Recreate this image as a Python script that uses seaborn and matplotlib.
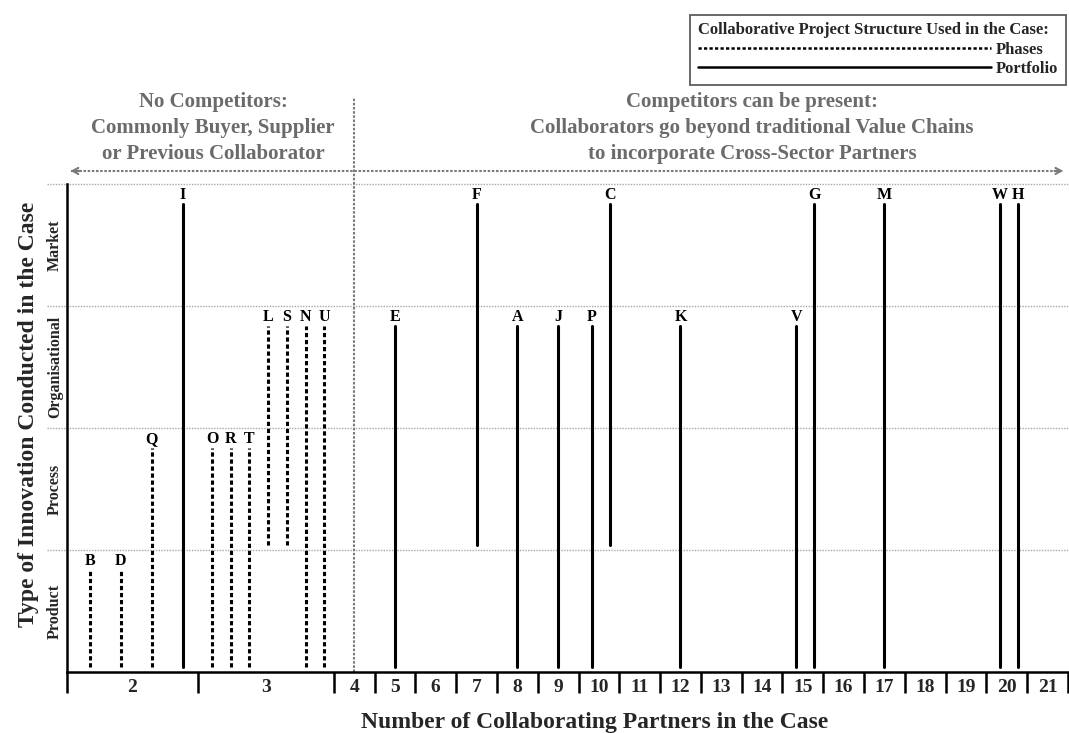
import numpy as np
import pandas as pd
import matplotlib
matplotlib.use('Agg')
import matplotlib.pyplot as plt
import seaborn as sns
from matplotlib.lines import Line2D

# Case data
cases = ['B', 'D', 'Q', 'I', 'O', 'R', 'T', 'L', 'S', 'N', 'U',
         'E', 'F', 'A', 'J', 'P', 'C', 'K', 'V', 'G', 'M', 'W', 'H']
partners = [2, 2, 2, 2, 3, 3, 3, 3, 3, 3, 3,
            5, 7, 8, 9, 10, 10, 12, 15, 15, 17, 20, 20]
structure = ['Phases'] * 3 + ['Portfolio'] + ['Phases'] * 7 + ['Portfolio'] * 12
# lowest / highest innovation type covered (1 Product, 2 Process, 3 Organisational, 4 Market)
type_from = [1, 1, 1, 1, 1, 1, 1, 2, 2, 1, 1,
             1, 2, 1, 1, 1, 2, 1, 1, 1, 1, 1, 1]
type_to = [1, 1, 2, 4, 2, 2, 2, 3, 3, 3, 3,
           3, 4, 3, 3, 3, 4, 3, 3, 4, 4, 4, 4]

partner_cats = list(range(2, 22))
innovation_types = ['Product', 'Process', 'Organisational', 'Market']

# Layout of the x axis: categories 2 and 3 are drawn wider
cat_width = {c: 1.0 for c in partner_cats}
cat_width[2] = 3.21
cat_width[3] = 3.33
widths = np.array([cat_width[c] for c in partner_cats])
edges = np.concatenate([[0], np.cumsum(widths)])
centers = (edges[:-1] + edges[1:]) / 2

# position every case inside its category
xs = []
for i, p in enumerate(partners):
    group = [j for j, q in enumerate(partners) if q == p]
    k = group.index(i)
    n = len(group)
    ci = partner_cats.index(p)
    frac = 0.5 if n == 1 else (k + 0.75) / (n + 0.25)
    xs.append(edges[ci] + widths[ci] * frac)

rows = []
for c, x, s, lo, hi in zip(cases, xs, structure, type_from, type_to):
    rows.append({'case': c, 'x': x, 'y': lo - 1 + 0.04, 'structure': s})
    rows.append({'case': c, 'x': x, 'y': hi - 0.16, 'structure': s})
df = pd.DataFrame(rows)

sns.set_style('white')
plt.rcParams['font.family'] = ['Liberation Serif', 'DejaVu Serif']
plt.rcParams['font.weight'] = 'bold'

W, H = 1069, 733
fig = plt.figure(figsize=(W / 100, H / 100), dpi=100)
ax = fig.add_axes([67 / W, 61 / H, 1001 / W, 488 / H])

sns.lineplot(data=df, x='x', y='y', units='case', estimator=None, sort=False,
             style='structure', dashes={'Phases': (1.4, 0.9), 'Portfolio': ''},
             color='black', lw=2.2, legend=False, ax=ax)

# case letters
for c, x, hi in zip(cases, xs, type_to):
    ax.text(x, hi - 0.125, c, ha='center', va='baseline', fontsize=11.5,
            fontweight='bold', color='black')

ax.set_xlim(0, edges[-1])
ax.set_ylim(0, 4)

# dotted level separators
for lvl in range(1, 5):
    ax.plot([-0.5, edges[-1]], [lvl, lvl], color='#a8a8a8', lw=1,
            ls=(0, (1, 1)), clip_on=False, zorder=0)

# level names
for i, name in enumerate(innovation_types):
    ax.text(-0.3, i + 0.5, name, rotation=90, ha='center', va='center',
            fontsize=11.5, fontweight='bold')

# divider between the two collaboration regimes
x4 = centers[partner_cats.index(4)]
ax.plot([x4, x4], [0, 4.71], color='#7a7a7a', lw=1.5, ls=(0, (1.2, 0.8)),
        clip_on=False, zorder=0)

# double headed dotted arrow
ya = 4.107
ax.plot([0.1, edges[-1] - 0.12], [ya, ya], color='#7a7a7a', lw=1.5,
        ls=(0, (1.2, 0.8)), clip_on=False)
ax.annotate('', xy=(0.02, ya), xytext=(0.4, ya), annotation_clip=False,
            arrowprops=dict(arrowstyle='->,head_length=0.4,head_width=0.22',
                            color='#7a7a7a', lw=1.5))
ax.annotate('', xy=(edges[-1] - 0.05, ya), xytext=(edges[-1] - 0.4, ya),
            annotation_clip=False,
            arrowprops=dict(arrowstyle='->,head_length=0.4,head_width=0.22',
                            color='#7a7a7a', lw=1.5))

fig.text(213 / W, 1 - 128 / H,
         'No Competitors:\nCommonly Buyer, Supplier\nor Previous Collaborator',
         ha='center', va='center', fontsize=15, fontweight='bold',
         color='#6b6b6b', linespacing=1.42)
fig.text(752 / W, 1 - 128 / H,
         'Competitors can be present:\nCollaborators go beyond traditional Value Chains\n'
         'to incorporate Cross-Sector Partners',
         ha='center', va='center', fontsize=15, fontweight='bold',
         color='#6b6b6b', linespacing=1.42)

# axes styling
ax.set_xticks(centers)
ax.set_xticklabels([str(c) for c in partner_cats], fontsize=14, fontweight='bold')
ax.set_xticks(edges, minor=True)
ax.tick_params(axis='x', which='both', bottom=True)
ax.tick_params(axis='x', which='major', length=0, pad=5)
ax.tick_params(axis='x', which='minor', length=15, width=1.8, color='black')
ax.set_yticks([])
for side in ['top', 'right']:
    ax.spines[side].set_visible(False)
for side in ['left', 'bottom']:
    ax.spines[side].set_color('black')
    ax.spines[side].set_linewidth(1.8)

ax.set_xlabel('Number of Collaborating Partners in the Case', fontsize=17,
              fontweight='bold')
ax.xaxis.set_label_coords(0.527, -0.082)
ax.set_ylabel('Type of Innovation Conducted in the Case', fontsize=17,
              fontweight='bold')
ax.yaxis.set_label_coords(-0.028, 0.527)

# legend
handles = [Line2D([0], [0], color='black', lw=1.8, ls=(0, (1.3, 0.9))),
           Line2D([0], [0], color='black', lw=1.8)]
leg = fig.legend(handles, ['Phases', 'Portfolio'],
                 title='Collaborative Project Structure Used in the Case:',
                 loc='upper right', bbox_to_anchor=(1066 / W, 1 - 15 / H),
                 bbox_transform=fig.transFigure, borderaxespad=0,
                 handlelength=17.6, handletextpad=0.3, labelspacing=0.2,
                 borderpad=0.45, fancybox=False, alignment='left',
                 prop={'family': 'Liberation Serif', 'weight': 'bold', 'size': 12},
                 title_fontproperties={'family': 'Liberation Serif',
                                       'weight': 'bold', 'size': 12})
leg.get_frame().set_edgecolor('#333333')
leg.get_frame().set_linewidth(1.3)

fig.savefig('out.png', dpi=100)
